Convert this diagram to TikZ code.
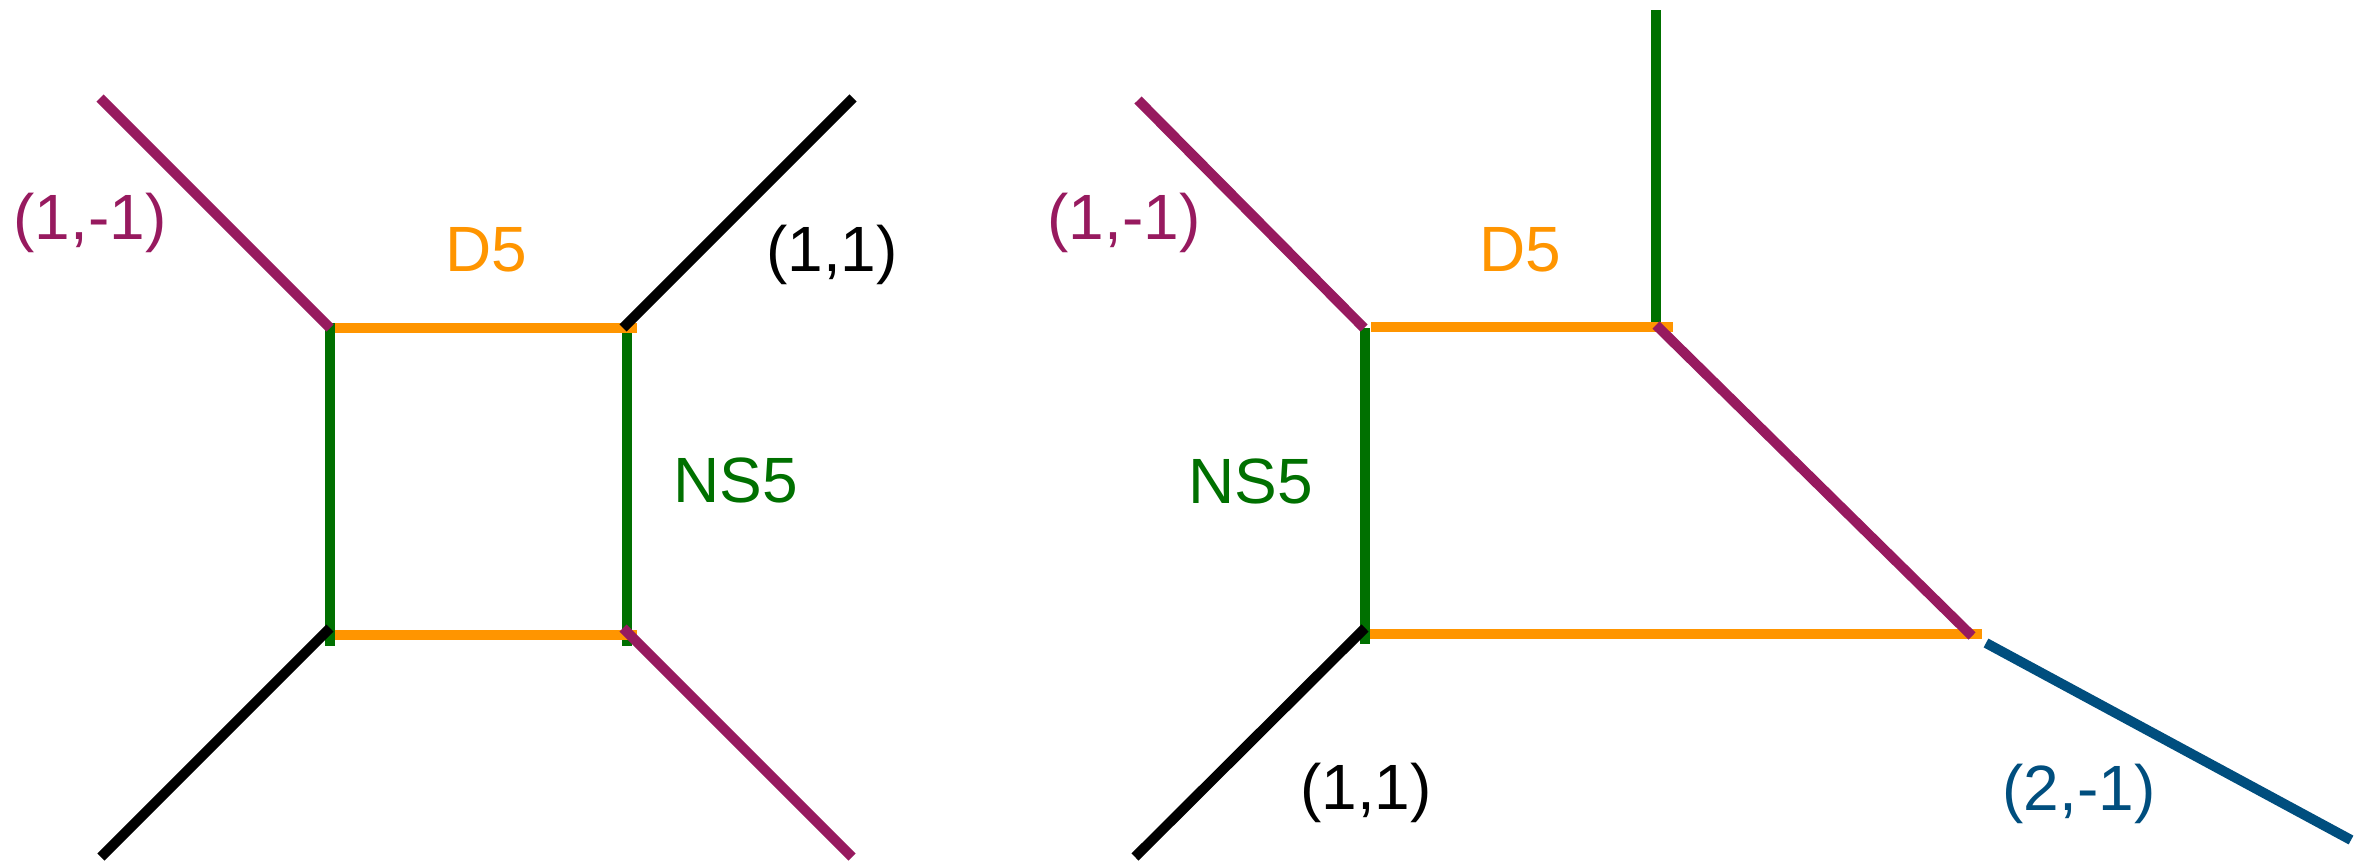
\documentclass[tikz,border=0pt]{standalone}
\usepackage{fontspec}
\setmainfont{Liberation Sans}
\definecolor{pq}{HTML}{971A5F}
\definecolor{dfive}{HTML}{FF9500}
\definecolor{nsfive}{HTML}{007000}
\definecolor{twoone}{HTML}{004E7E}
\begin{document}
\begin{tikzpicture}[x=0.5pt,y=-0.5pt,
  seg/.style={line width=5pt},
  lab/.style={anchor=base,inner sep=0pt,font=\fontsize{32}{38}\selectfont}]
\useasboundingbox[fill=white] (0,0) rectangle (2366,862);
% ---------- left diagram ----------
\coordinate (LgA1) at (330,323); \coordinate (LgA2) at (330,646);
\coordinate (LgB1) at (627,330); \coordinate (LgB2) at (627,646);
\coordinate (LoT1) at (335,328); \coordinate (LoT2) at (637,328);
\coordinate (LoB1) at (335,635); \coordinate (LoB2) at (637,635);
\coordinate (LTL) at (330,328); \coordinate (LTLe) at (100,98);
\coordinate (LTR) at (623,328); \coordinate (LTRe) at (853,98);
\coordinate (LBL) at (330,628); \coordinate (LBLe) at (101,857);
\coordinate (LBR) at (623,628); \coordinate (LBRe) at (852,857);
\draw[seg,nsfive] (LgA1) -- (LgA2);
\draw[seg,nsfive] (LgB1) -- (LgB2);
\draw[seg,dfive] (LoT1) -- (LoT2);
\draw[seg,dfive] (LoB1) -- (LoB2);
\draw[seg,pq] (LTL) -- (LTLe);
\draw[seg,black] (LTR) -- (LTRe);
\draw[seg,black] (LBL) -- (LBLe);
\draw[seg,pq] (LBR) -- (LBRe);
\node[lab,pq] (Lpq) at (90,239) {(1,-1)};
\node[lab,dfive] (Ld5) at (486,271) {D5};
\node[lab,black] (L11) at (832,271) {(1,1)};
\node[lab,nsfive] (Lns) at (736,502) {NS5};
% ---------- right diagram ----------
\coordinate (RgA1) at (1365,328); \coordinate (RgA2) at (1365,644);
\coordinate (RoT1) at (1371,327); \coordinate (RoT2) at (1673,327);
\coordinate (RoB1) at (1370,634); \coordinate (RoB2) at (1982,634);
\coordinate (RgU1) at (1656,10); \coordinate (RgU2) at (1656,327);
\coordinate (RTL) at (1364,328); \coordinate (RTLe) at (1138,100);
\coordinate (RD1) at (1656,325); \coordinate (RD2) at (1972,636);
\coordinate (RBL) at (1365,628); \coordinate (RBLe) at (1135,857);
\coordinate (RB1) at (1986,643); \coordinate (RB2) at (2351,840);
\draw[seg,nsfive] (RgA1) -- (RgA2);
\draw[seg,nsfive] (RgU1) -- (RgU2);
\draw[seg,dfive] (RoT1) -- (RoT2);
\draw[seg,dfive] (RoB1) -- (RoB2);
\draw[seg,pq] (RTL) -- (RTLe);
\draw[seg,pq] (RD1) -- (RD2);
\draw[seg,black] (RBL) -- (RBLe);
\draw[seg,twoone] (RB1) -- (RB2);
\node[lab,pq] (Rpq) at (1124,239) {(1,-1)};
\node[lab,dfive] (Rd5) at (1520,271) {D5};
\node[lab,nsfive] (Rns) at (1251,503) {NS5};
\node[lab,black] (R11) at (1366,809) {(1,1)};
\node[lab,twoone] (R21) at (2079,810) {(2,-1)};
\end{tikzpicture}
\end{document}
